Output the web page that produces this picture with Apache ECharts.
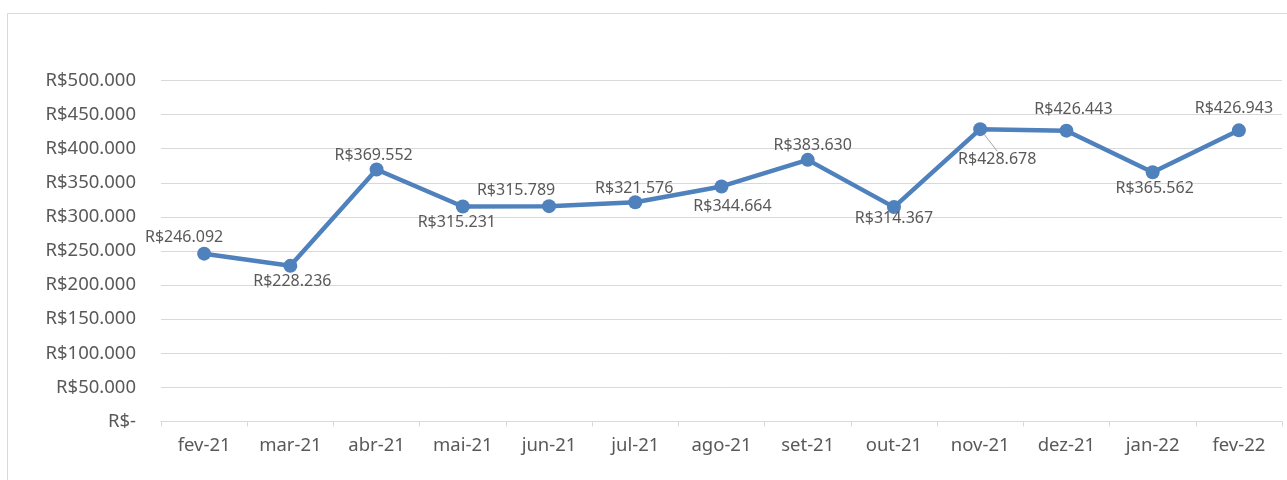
<!DOCTYPE html>
<html>
<head>
<meta charset="utf-8">
<script src="https://cdn.jsdelivr.net/npm/echarts@6/dist/echarts.min.js"></script>
<style>
html,body{margin:0;padding:0;background:#fff;}
#chart{width:1287px;height:480px;}
</style>
</head>
<body>
<div id="chart"></div>
<script>
const categories = ['fev-21','mar-21','abr-21','mai-21','jun-21','jul-21','ago-21','set-21','out-21','nov-21','dez-21','jan-22','fev-22'];
const values = [246092, 228236, 369552, 315231, 315789, 321576, 344664, 383630, 314367, 428678, 426443, 365562, 426943];
const yTicks = [0, 50000, 100000, 150000, 200000, 250000, 300000, 350000, 400000, 450000, 500000];
// label placement (layout only, offsets from each point in px)
const labelOffsets = [[-20,-16],[2,16],[-3,-14],[-6,16],[-33,-16],[-1,-14],[11,20],[5,-14],[0,11],[17,30],[7,-21],[2,16],[-5,-22]];
const leaderLine = [false,false,false,false,false,false,false,false,false,true,false,false,false];

function fmt(v){
  if (v === 0) return 'R$-';
  return 'R$' + String(Math.round(v)).replace(/\B(?=(\d{3})+(?!\d))/g, '.');
}

const chart = echarts.init(document.getElementById('chart'));
const FONT = 'Noto Sans';
chart.setOption({
  animation: false,
  backgroundColor: '#fff',
  graphic: [{
    type: 'rect', silent: true,
    shape: {x: 7.5, y: 13.5, width: 1300, height: 500},
    style: {fill: 'none', stroke: '#d9d9d9', lineWidth: 1}
  }],
  grid: {left: 161, right: 5, top: 80.5, bottom: 58.5, containLabel: false},
  xAxis: {
    type: 'category',
    data: categories,
    boundaryGap: true,
    axisLine: {show: true, lineStyle: {color: '#d9d9d9', width: 1}},
    axisTick: {show: true, alignWithLabel: false, length: 5, lineStyle: {color: '#d9d9d9'}},
    axisLabel: {color: '#595959', fontFamily: FONT, fontSize: 18.5, margin: 15}
  },
  yAxis: {
    type: 'value',
    min: yTicks[0], max: yTicks[yTicks.length-1], interval: yTicks[1]-yTicks[0],
    axisLine: {show: false},
    axisTick: {show: false},
    splitLine: {lineStyle: {color: '#d9d9d9', width: 1}},
    axisLabel: {color: '#595959', fontFamily: FONT, fontSize: 18.5, margin: 25, formatter: fmt}
  },
  series: [{
    type: 'line',
    data: values.map((v, i) => ({value: v, labelLine: {show: leaderLine[i]}})),
    symbol: 'circle',
    symbolSize: 14,
    lineStyle: {color: '#4f81bd', width: 4.5},
    itemStyle: {color: '#4f81bd'},
    label: {
      show: true, position: 'inside',
      color: '#595959', fontFamily: FONT, fontSize: 16,
      formatter: p => fmt(p.value)
    },
    labelLine: {show: false, lineStyle: {color: '#a6a6a6', width: 1}},
    labelLayout: p => ({dx: labelOffsets[p.dataIndex][0], dy: labelOffsets[p.dataIndex][1]})
  }]
});
</script>
</body>
</html>
